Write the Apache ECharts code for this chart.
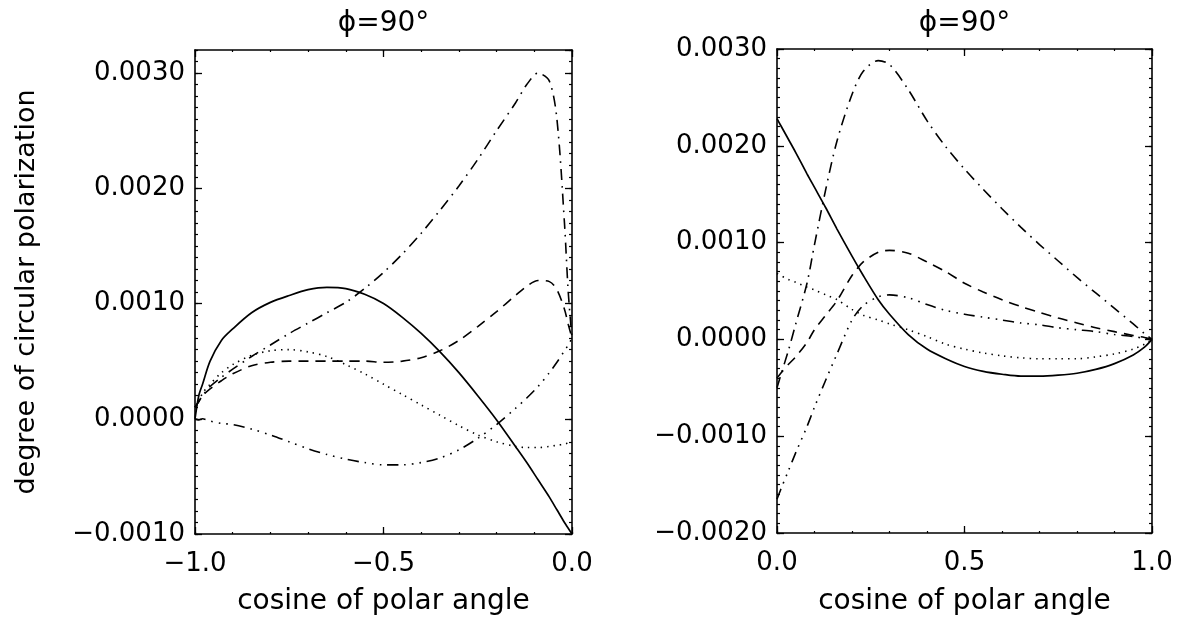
<!DOCTYPE html>
<html>
<head>
<meta charset="utf-8">
<script src="https://cdn.jsdelivr.net/npm/echarts@6/dist/echarts.min.js"></script>
<style>
  html, body { margin: 0; padding: 0; background: #fff; }
  #chart { width: 1182px; height: 619px; }
</style>
</head>
<body>
<div id="chart"></div>
<script>
// ---- data: degree of circular polarization vs. cosine of polar angle, phi = 90 deg ----

// left panel (cos theta from -1 to 0)
const xLeft = [-1.0, -0.99, -0.98, -0.96, -0.93, -0.9, -0.85, -0.8, -0.75, -0.7, -0.65, -0.6, -0.55, -0.5,
  -0.45, -0.4, -0.35, -0.3, -0.25, -0.2, -0.15, -0.12, -0.09, -0.06, -0.04, -0.02, -0.01, 0.0];
const leftSolid = [0.0, 0.0002, 0.0003, 0.0005, 0.00068, 0.00078, 0.00092, 0.00101, 0.00107, 0.00112, 0.00114,
  0.00113, 0.00108, 0.001, 0.00088, 0.00074, 0.00058, 0.0004, 0.0002, -0.00001, -0.00024, -0.00038, -0.00053,
  -0.00068, -0.00079, -0.0009, -0.00095, -0.001];
const leftDashed = [0.0001, 0.00015, 0.0002, 0.00026, 0.00033, 0.00039, 0.00046, 0.00049, 0.0005, 0.0005, 0.0005,
  0.0005, 0.0005, 0.00049, 0.0005, 0.00053, 0.00059, 0.00068, 0.0008, 0.00093, 0.00107, 0.00115, 0.0012,
  0.00119, 0.00112, 0.00095, 0.00082, 0.0007];
const leftDotted = [0.0001, 0.00015, 0.00022, 0.0003, 0.0004, 0.00047, 0.00055, 0.00059, 0.0006, 0.00058, 0.00054,
  0.00047, 0.00039, 0.0003, 0.00021, 0.00012, 0.00003, -0.00006, -0.00014, -0.0002, -0.00024, -0.00025,
  -0.00025, -0.00024, -0.00023, -0.00022, -0.00021, -0.0002];
const leftDashDot = [0.0001, 0.00015, 0.0002, 0.00028, 0.00036, 0.00043, 0.00054, 0.00064, 0.00074, 0.00083,
  0.00092, 0.00101, 0.00113, 0.00127, 0.00143, 0.00161, 0.00181, 0.00202, 0.00225, 0.0025, 0.00274, 0.0029,
  0.003, 0.00293, 0.0026, 0.0017, 0.0011, 0.0007];
const leftDashDot3 = [0.0, -0.00001, 0.0, -0.00002, -0.00004, -0.00005, -0.00009, -0.00014, -0.0002, -0.00026,
  -0.00031, -0.00035, -0.00038, -0.0004, -0.0004, -0.00038, -0.00034, -0.00027, -0.00017, -0.00005, 0.00009,
  0.00018, 0.00028, 0.0004, 0.00049, 0.00059, 0.00064, 0.0007];

// right panel (cos theta from 0 to 1)
const xRight = [0.0, 0.01, 0.03, 0.05, 0.08, 0.1, 0.13, 0.16, 0.2, 0.23, 0.27, 0.3, 0.35, 0.4, 0.45, 0.5,
  0.55, 0.6, 0.65, 0.7, 0.75, 0.8, 0.85, 0.9, 0.95, 0.98, 1.0];
const rightSolid = [0.00228, 0.00221, 0.00207, 0.00193, 0.00171, 0.00157, 0.00136, 0.00114, 0.00086, 0.00066,
  0.00041, 0.00026, 0.00005, -0.0001, -0.0002, -0.00028, -0.00033, -0.00036, -0.00038, -0.00038, -0.00037,
  -0.00035, -0.00031, -0.00025, -0.00016, -0.00008, 0.0];
const rightDashed = [-0.0004, -0.00035, -0.00026, -0.00018, -0.00003, 0.0001, 0.00025, 0.0004, 0.00066, 0.0008,
  0.0009, 0.00092, 0.00089, 0.0008, 0.0007, 0.00058, 0.00049, 0.00041, 0.00034, 0.00028, 0.00022, 0.00017,
  0.00012, 0.00008, 0.00004, 0.00002, 0.0];
const rightDotted = [0.00068, 0.00066, 0.00062, 0.00059, 0.00054, 0.00051, 0.00046, 0.00041, 0.00031, 0.00025,
  0.0002, 0.00016, 0.0001, 0.00003, -0.00005, -0.0001, -0.00014, -0.00017, -0.00019, -0.0002, -0.0002,
  -0.0002, -0.00018, -0.00015, -0.0001, -0.00005, 0.0];
const rightDashDot = [-0.0005, -0.00037, -0.00012, 0.00016, 0.00058, 0.00098, 0.00155, 0.00205, 0.00253, 0.00277,
  0.00288, 0.00284, 0.00258, 0.00226, 0.00199, 0.00176, 0.00155, 0.00135, 0.00116, 0.00098, 0.00081, 0.00064,
  0.00048, 0.00032, 0.00016, 0.00006, 0.0];
const rightDashDot3 = [-0.00165, -0.00155, -0.00136, -0.00117, -0.0009, -0.0007, -0.00042, -0.00015, 0.0002,
  0.00035, 0.00044, 0.00046, 0.00043, 0.00036, 0.0003, 0.00026, 0.00023, 0.0002, 0.00017, 0.00015, 0.00012,
  0.0001, 0.00008, 0.00005, 0.00003, 0.00001, 0.0];

// axis extents and tick spacing
const xRangeLeft = [-1.0, 0.0];
const xRangeRight = [0.0, 1.0];
const yRangeLeft = [-0.001, 0.0032];
const yRangeRight = [-0.002, 0.003];
const xMajorStep = 0.5, xMinorStep = 0.1;
const yMajorStep = 0.001, yMinorStep = 0.0001;

const panelTitle = 'ϕ=90°';
const xTitle = 'cosine of polar angle';
const yTitle = 'degree of circular polarization';

// ---- chart ----
const FONT = '"DejaVu Sans", "Liberation Sans", sans-serif';
const INK = '#000';

const GRIDS = [
  { left: 195, top: 50, width: 377, height: 484 },
  { left: 777, top: 49, width: 375, height: 484 }
];

function signed(v, digits) {
  const s = Math.abs(v).toFixed(digits);
  return (v < -1e-12 ? '\u2212' : '') + s;
}

function axisSet(dim, gridIndex, range, major, minor, withLabels) {
  const sides = dim === 'x' ? ['bottom', 'top'] : ['left', 'right'];
  const minorLen = dim === 'x' ? 2 : 3;
  const out = [];
  sides.forEach((pos, si) => {
    [major, minor].forEach((step, ki) => {
      const isMajor = ki === 0;
      out.push({
        type: 'value',
        gridIndex: gridIndex,
        position: pos,
        min: range[0],
        max: range[1],
        interval: step,
        axisLine: { show: isMajor, onZero: false, lineStyle: { color: INK, width: 1.6 } },
        axisTick: { show: true, inside: true, length: isMajor ? 7 : minorLen,
                    lineStyle: { color: INK, width: isMajor ? 1.3 : 1.2 } },
        minorTick: { show: false },
        splitLine: { show: false },
        axisLabel: {
          show: withLabels && isMajor && si === 0,
          showMaxLabel: dim === 'y' ? (range[1] / step) % 1 === 0 : true,
          color: INK,
          fontFamily: FONT,
          fontSize: 26,
          margin: dim === 'x' ? 17 : 10,
          formatter: v => {
            if (dim === 'y' && Math.abs(v / step - Math.round(v / step)) > 1e-6) return '';
            return signed(v, dim === 'x' ? 1 : 4);
          }
        },
        silent: true
      });
    });
  });
  return out;
}

const xAxes = [].concat(
  axisSet('x', 0, xRangeLeft, xMajorStep, xMinorStep, true),
  axisSet('x', 1, xRangeRight, xMajorStep, xMinorStep, true)
);
const yAxes = [].concat(
  axisSet('y', 0, yRangeLeft, yMajorStep, yMinorStep, true),
  axisSet('y', 1, yRangeRight, yMajorStep, yMinorStep, true)
);

// IDL-like line styles: solid, dashed, dotted, dash-dot, dash-dot-dot-dot
const STYLES = {
  solid: 'solid',
  dashed: [10, 7],
  dotted: [1.4, 5],
  dashDot: [11, 6, 1.6, 6],
  dashDot3: [11, 6, 1.6, 6, 1.6, 6, 1.6, 6]
};

function curve(name, xs, ys, style, axisBase) {
  return {
    type: 'line',
    name: name,
    xAxisIndex: axisBase,
    yAxisIndex: axisBase,
    data: xs.map((x, i) => [x, ys[i]]),
    showSymbol: false,
    smooth: 0.3,
    lineStyle: { color: INK, width: style === 'solid' ? 1.7 : 1.6, type: STYLES[style] },
    silent: true,
    z: 3
  };
}

const series = [
  curve('left-solid', xLeft, leftSolid, 'solid', 0),
  curve('left-dashed', xLeft, leftDashed, 'dashed', 0),
  curve('left-dotted', xLeft, leftDotted, 'dotted', 0),
  curve('left-dashdot', xLeft, leftDashDot, 'dashDot', 0),
  curve('left-dashdot3', xLeft, leftDashDot3, 'dashDot3', 0),
  curve('right-solid', xRight, rightSolid, 'solid', 4),
  curve('right-dashed', xRight, rightDashed, 'dashed', 4),
  curve('right-dotted', xRight, rightDotted, 'dotted', 4),
  curve('right-dashdot', xRight, rightDashDot, 'dashDot', 4),
  curve('right-dashdot3', xRight, rightDashDot3, 'dashDot3', 4)
];

function label(text, x, y, size, rotation) {
  return {
    type: 'text',
    x: x, y: y,
    rotation: rotation || 0,
    silent: true,
    style: {
      text: text,
      fill: INK,
      font: size + 'px ' + FONT,
      align: 'center', verticalAlign: 'middle',
      textAlign: 'center', textVerticalAlign: 'middle'
    }
  };
}

const graphics = [];
GRIDS.forEach(g => {
  const cx = g.left + g.width / 2;
  graphics.push(label(panelTitle, cx, 24, 28));
  graphics.push(label(xTitle, cx, 602, 28));
});
graphics.push(label(yTitle, 27, GRIDS[0].top + GRIDS[0].height / 2, 27, Math.PI / 2));

const chart = echarts.init(document.getElementById('chart'), null, { renderer: 'canvas' });
chart.setOption({
  backgroundColor: '#fff',
  animation: false,
  grid: GRIDS.map(g => Object.assign({ containLabel: false, outerBoundsMode: 'none', show: false }, g)),
  xAxis: xAxes,
  yAxis: yAxes,
  series: series,
  graphic: graphics
});
</script>
</body>
</html>
